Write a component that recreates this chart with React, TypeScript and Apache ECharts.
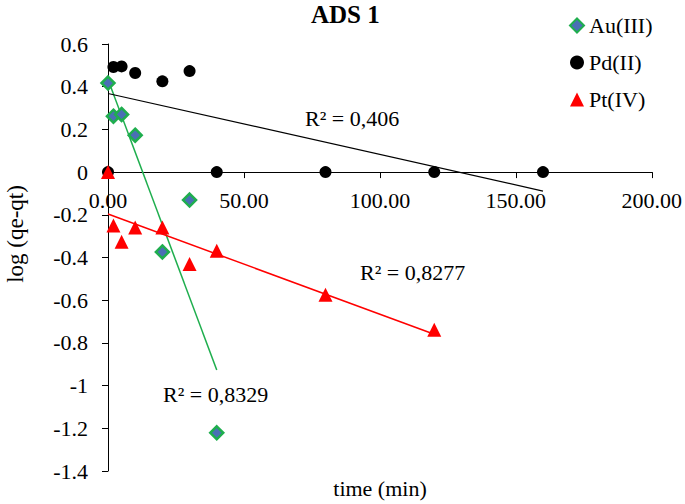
import { useEffect, useRef } from "react";
import * as echarts from "echarts";

const seriesNames = ["Au(III)", "Pd(II)", "Pt(IV)"];
const auTime = [0, 2, 5, 10, 20, 30, 40];
const auValues = [0.417, 0.262, 0.27, 0.173, -0.374, -0.131, -1.221];
const pdTime = [0, 2, 5, 10, 20, 30, 40, 80, 120, 160];
const pdValues = [0, 0.492, 0.495, 0.464, 0.425, 0.473, 0, 0, 0, 0];
const ptTime = [0, 2, 5, 10, 20, 30, 40, 80, 120];
const ptValues = [0, -0.25, -0.326, -0.26, -0.26, -0.431, -0.368, -0.575, -0.738];
const rSquaredLabels = ["R² = 0,8329", "R² = 0,406", "R² = 0,8277"];
const yMin = -1.4;
const yMax = 0.6;

const FONT = "Liberation Serif";

const GRID_TOP = 44;
const GRID_BOTTOM = 33;
const HEIGHT = 504;

function pairs(xs: number[], ys: number[]) {
  return xs.map((x, i) => [x, ys[i]]);
}

function trend(xs: number[], ys: number[]) {
  const n = xs.length;
  const mx = xs.reduce((a, b) => a + b, 0) / n;
  const my = ys.reduce((a, b) => a + b, 0) / n;
  let sxy = 0;
  let sxx = 0;
  for (let i = 0; i < n; i++) {
    sxy += (xs[i] - mx) * (ys[i] - my);
    sxx += (xs[i] - mx) * (xs[i] - mx);
  }
  const b = sxy / sxx;
  const a = my - b * mx;
  const x0 = Math.min(...xs);
  const x1 = Math.max(...xs);
  return [
    [x0, a + b * x0],
    [x1, a + b * x1],
  ];
}

export default function App() {
  const ref = useRef<HTMLDivElement>(null);
  useEffect(() => {
    if (!ref.current) return;
    const chart = echarts.init(ref.current, undefined, { renderer: "svg" });
    const green = "#1fae4e";
    const blue = "#4a6fb5";
    const gridH = HEIGHT - GRID_TOP - GRID_BOTTOM;
    const zeroOffset = -(gridH * (0 - yMin)) / (yMax - yMin);
    chart.setOption({
      animation: false,
      backgroundColor: "#ffffff",
      textStyle: { fontFamily: FONT, color: "#000" },
      title: {
        text: "ADS 1",
        left: 311,
        top: 2,
        padding: 0,
        textStyle: { fontFamily: FONT, fontSize: 25, fontWeight: "bold", color: "#000" },
      },
      legend: {
        orient: "vertical",
        left: 569,
        top: 14,
        padding: 0,
        itemGap: 14,
        itemWidth: 14,
        itemHeight: 14,
        textStyle: { fontFamily: FONT, fontSize: 22, color: "#000", lineHeight: 23 },
        data: seriesNames,
      },
      grid: { left: 108, right: 33, top: GRID_TOP, bottom: GRID_BOTTOM, containLabel: false },
      xAxis: {
        type: "value",
        min: 0,
        max: 200,
        interval: 50,
        offset: zeroOffset,
        axisLine: { onZero: false, lineStyle: { color: "#000", width: 1 } },
        axisTick: { show: true, length: 6, lineStyle: { color: "#000" } },
        splitLine: { show: false },
        axisLabel: {
          margin: 17,
          fontFamily: FONT,
          fontSize: 22,
          color: "#000",
          formatter: (v: number) => v.toFixed(2),
        },
      },
      yAxis: {
        type: "value",
        min: yMin,
        max: yMax,
        interval: 0.2,
        axisLine: { show: true, onZero: false, lineStyle: { color: "#000", width: 1 } },
        axisTick: { show: true, length: 6, lineStyle: { color: "#000" } },
        splitLine: { show: false },
        axisLabel: { margin: 20, fontFamily: FONT, fontSize: 22, color: "#000" },
      },
      graphic: [
        {
          type: "text",
          x: 15,
          y: 234,
          rotation: Math.PI / 2,
          style: {
            text: "log (qe-qt)",
            font: `23px ${FONT}`,
            fill: "#000",
            align: "center",
            verticalAlign: "middle",
          },
        },
        {
          type: "text",
          x: 380,
          y: 488,
          style: {
            text: "time (min)",
            font: `22px ${FONT}`,
            fill: "#000",
            align: "center",
            verticalAlign: "middle",
          },
        },
        {
          type: "text",
          x: 163,
          y: 394,
          style: { text: rSquaredLabels[0], font: `22px ${FONT}`, fill: "#000", verticalAlign: "middle" },
        },
        {
          type: "text",
          x: 305,
          y: 118,
          style: { text: rSquaredLabels[1], font: `22px ${FONT}`, fill: "#000", verticalAlign: "middle" },
        },
        {
          type: "text",
          x: 360,
          y: 272,
          style: { text: rSquaredLabels[2], font: `22px ${FONT}`, fill: "#000", verticalAlign: "middle" },
        },
      ],
      series: [
        {
          name: "trend-au",
          type: "line",
          data: trend(auTime, auValues),
          showSymbol: false,
          silent: true,
          lineStyle: { color: green, width: 1.5 },
          z: 1,
        },
        {
          name: "trend-pd",
          type: "line",
          data: trend(pdTime, pdValues),
          showSymbol: false,
          silent: true,
          lineStyle: { color: "#000", width: 1.2 },
          z: 1,
        },
        {
          name: "trend-pt",
          type: "line",
          data: trend(ptTime, ptValues),
          showSymbol: false,
          silent: true,
          lineStyle: { color: "#ff0000", width: 1.5 },
          z: 1,
        },
        {
          name: seriesNames[0],
          type: "scatter",
          data: pairs(auTime, auValues),
          symbol: "diamond",
          symbolSize: 13,
          itemStyle: { color: blue, borderColor: green, borderWidth: 2.5, opacity: 1 },
          z: 3,
        },
        {
          name: seriesNames[1],
          type: "scatter",
          data: pairs(pdTime, pdValues),
          symbol: "circle",
          symbolSize: 12,
          itemStyle: { color: "#000", opacity: 1 },
          z: 3,
        },
        {
          name: seriesNames[2],
          type: "scatter",
          data: pairs(ptTime, ptValues),
          symbol: "triangle",
          symbolSize: 14,
          itemStyle: { color: "#ff0000", opacity: 1 },
          z: 4,
        },
      ],
    });
    return () => chart.dispose();
  }, []);
  return (
    <div
      ref={ref}
      style={{ position: "fixed", left: 0, top: 0, width: 685, height: 504, background: "#fff" }}
    />
  );
}
